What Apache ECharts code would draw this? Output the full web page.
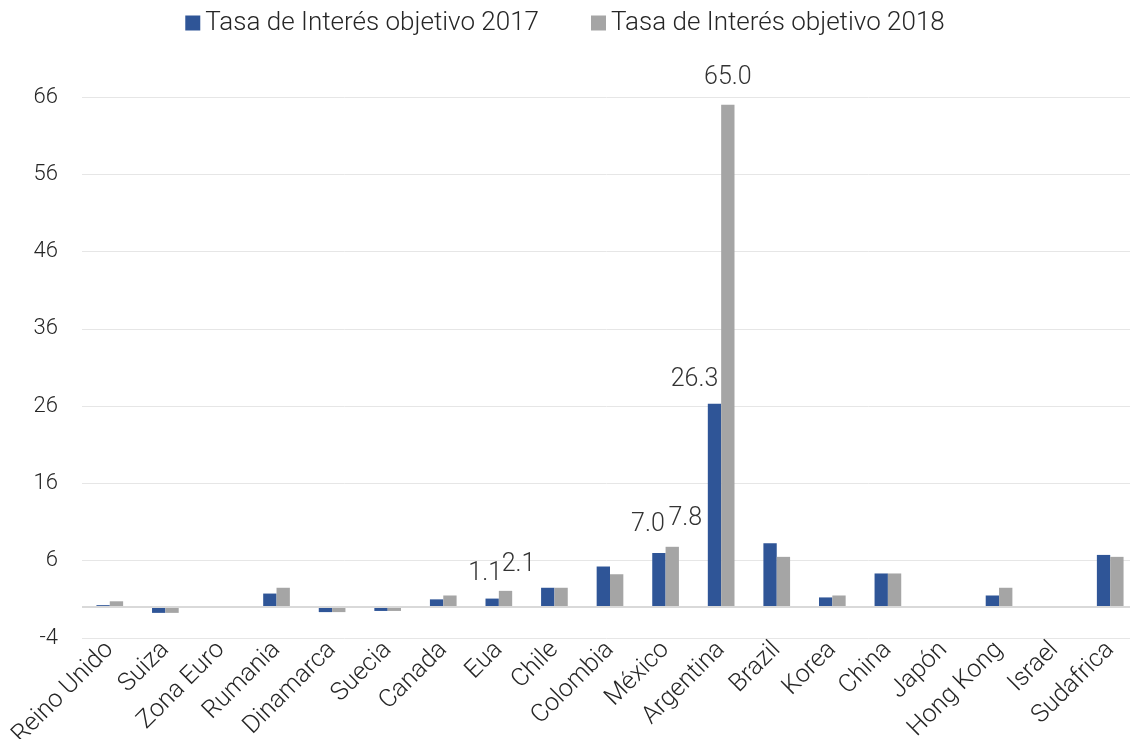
<!DOCTYPE html>
<html><head><meta charset="utf-8">
<script src="https://cdn.jsdelivr.net/npm/echarts@6/dist/echarts.min.js"></script>
<style>html,body{margin:0;padding:0;background:#fff}#c{width:1130px;height:739px}</style>
</head><body><div id="c"></div>
<script>
const categories = ["Reino Unido","Suiza","Zona Euro","Rumania","Dinamarca","Suecia","Canada","Eua","Chile","Colombia","México","Argentina","Brazil","Korea","China","Japón","Hong Kong","Israel","Sudafrica"];
const rate2017 = [0.25,-0.75,0,1.75,-0.65,-0.5,1.0,1.1,2.5,5.25,7.0,26.3,8.25,1.25,4.35,0,1.5,0,6.75];
const rate2018 = [0.75,-0.75,0,2.5,-0.65,-0.5,1.5,2.1,2.5,4.25,7.8,65.0,6.5,1.5,4.35,0,2.5,0,6.5];
const seriesNames = ["Tasa de Interés objetivo 2017","Tasa de Interés objetivo 2018"];
const labeled2017 = {"Eua":[-7,-2],"México":[-11,-6],"Argentina":[-20,-2]};
const labeled2018 = {"Eua":[13,-4],"México":[13,-6],"Argentina":[0,-4]};

const FONT = "Roboto";
function build(vals, labeled){
  return vals.map((v,i)=>{
    const off = labeled[categories[i]];
    if(!off) return v;
    return {value:v,label:{show:true,position:'top',distance:10,offset:off,
      formatter:(p)=>p.value.toFixed(1),fontSize:25,color:'#333333',fontFamily:FONT,fontWeight:300}};
  });
}
const chart = echarts.init(document.getElementById('c'));
chart.setOption({
  animation:false,
  textStyle:{fontFamily:FONT},
  legend:{top:5,left:'center',icon:'rect',itemWidth:15,itemHeight:15,itemGap:52,itemStyle:{borderWidth:0},
    textStyle:{fontSize:26,color:'#262626',fontFamily:FONT,fontWeight:300},
    data:seriesNames},
  grid:{left:82,right:-8,top:97,bottom:101,containLabel:false,outerBoundsMode:'none'},
  xAxis:{type:'category',data:categories,
    axisLine:{show:false,onZero:false},axisTick:{show:false},
    axisLabel:{rotate:45,interval:0,fontSize:25,color:'#262626',fontFamily:FONT,fontWeight:300,margin:8}},
  yAxis:{type:'value',min:-4,max:66,interval:10,
    axisLine:{show:false},axisTick:{show:false},
    axisLabel:{fontSize:22,color:'#262626',fontFamily:FONT,fontWeight:300,margin:24},
    splitLine:{lineStyle:{color:'#E6E6E6',width:1}}},
  series:[
    {name:seriesNames[0],type:'bar',data:build(rate2017,labeled2017),barWidth:'24%',barGap:'0%',
      itemStyle:{color:'#2F5597'},
      markLine:{silent:true,symbol:'none',label:{show:false},lineStyle:{color:'#D9D9D9',width:2,type:'solid'},data:[{yAxis:0}]}},
    {name:seriesNames[1],type:'bar',data:build(rate2018,labeled2018),barWidth:'24%',barGap:'0%',
      itemStyle:{color:'#A5A5A5'}}
  ]
});
</script></body></html>
